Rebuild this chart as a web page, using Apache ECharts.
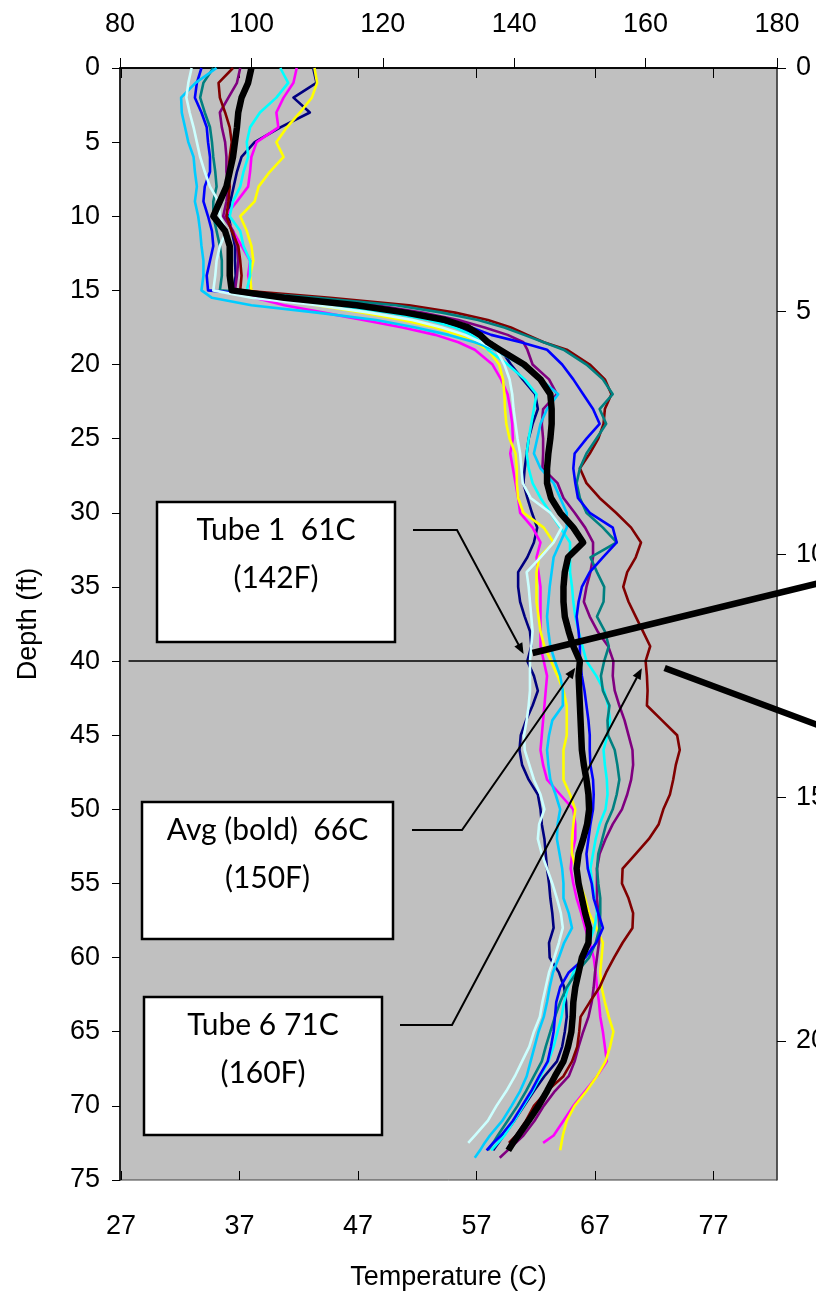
<!DOCTYPE html>
<html>
<head>
<meta charset="utf-8">
<script src="https://cdn.jsdelivr.net/npm/echarts@6/dist/echarts.min.js"></script>
<style>
  html, body { margin: 0; padding: 0; background: #ffffff; }
  #chart { width: 816px; height: 1299px; }
</style>
</head>
<body>
<div id="chart"></div>
<script>
// Depth of each reading (ft); temperatures below are in degrees F.
const depthFt = [0,1,2,3,4,5,6,7,8,9,10,11,12,13,14,15,
  15.5,16,16.5,17,17.5,18,18.5,19,
  20,21,22,23,24,25,26,27,28,29,30,31,32,33,34,35,36,37,38,39,40,41,42,43,44,45,46,
  47,48,49,50,51,52,53,54,55,56,57,58,59,60,61,62,63,64,65,66,67,68,69,70,71,72,
  72.5,73,73.5];

const tube1 = [109.4,109.9,106.4,108.9,104.4,100.5,98.5,97.8,97.3,96.8,96.5,97.0,97.5,97.5,97.6,97.3,
  106,115,122,127.5,131.5,134.5,136.5,138,
  139.5,141.3,143.2,143.6,142.8,142.2,141.9,141.6,141.4,142,142.7,143.5,143,
  142,140.6,140.6,140.9,141.6,142.4,142.6,142,143,143.6,142.8,141.8,141,140.8,141.2,142.2,143.6,
  144,144.2,144.6,144.8,145,145.3,145.5,145.8,146,145.3,145.4,146.8,147.6,147.9,148,147.7,147.3,146.5,144.6,143,141.5,140,138.4,
  137.6,136.8,null];

const tube2 = [106.9,106.4,104.9,103.8,104.1,100.8,100.0,99.8,99.5,97.8,96.0,97.2,98.5,99.8,99.5,100.0,
  100.5,105,111,117,123,128,131.5,134,
  136.7,138,139,139.4,139.7,139.8,139.4,139.8,140.2,140.6,140.9,142.8,144,
  143.4,143.7,144,144,144,144,144,144.5,145,144.8,144.6,144.4,144.2,144,144.4,145,147,
  149,149.3,149.3,148.8,148.6,149,149.5,150.2,150.8,151.5,152.1,152.4,152.6,152.9,153.1,153.5,153.8,154.1,152.6,150.8,149,147.5,146,
  144.4,null,null];

const tube3 = [109.6,110.0,109.2,107.4,105.4,103.8,104.9,102.8,101.1,100.5,98.3,99.3,100.0,100.3,99.8,100.0,
  103,110,117,123,128,131.5,134,136,
  137.7,138.3,138.5,138.6,138.8,139.3,140.2,140.4,140.4,140.6,141.4,144.5,146,
  143.8,143.4,143.4,143.4,143.7,144,144.6,145.6,146.6,147.5,148,148,148,147.5,147.5,147.5,148.5,
  149.3,149,148.8,148.8,149.4,150,150.8,151.4,152.5,153.5,153.3,153.1,153.3,153.8,154.4,155.1,154.6,153.9,152.6,151,149.2,148,147.4,
  147.2,147,null];

const tube4 = [104.4,105.6,103.8,101.3,99.8,99.3,99.5,98.8,98.3,97.2,96.7,98.3,98.8,99.8,99.8,99.3,
  104,113,121,127,131,133.5,135,136,
  139,141.6,143.4,143,142.6,142.2,141.9,142.2,142.8,144,145.5,147,148.5,
  148.5,148.5,148.8,149,149.3,149.8,150.4,151,152.5,153.7,154.3,154.6,154.2,153.6,153.8,154.1,154.2,
  153.9,153,152.4,152,151.6,151.9,152.3,152.6,152.2,151.4,150.3,149,148.2,147.6,147.2,146.6,146,145.2,144,142.8,141.4,140,138.5,
  137.5,136.5,null];

const tube5 = [98.3,97.8,96.5,95.2,95.5,96.0,96.2,96.2,96.5,96.2,95.7,97.2,97.8,98.0,97.8,97.5,
  108,119,126,131.5,135.5,139,141.4,142,
  142.8,145.3,146.5,144.4,144.2,144.4,144.4,144.3,146.6,147.5,149.2,150.8,152,
  152,151.6,151,150.6,151.5,152.7,154.3,155.1,155,155.3,156,156.8,157.4,158,158.1,157.8,157.2,
  156.4,155,153.9,153,152.6,152.6,152.6,152.8,153,152.9,152.6,152.3,152.1,151.8,151.3,150.5,149.8,149.2,148.3,146.2,144.5,143.1,141.4,
  140.2,139,137.8];

const tube6 = [97.2,95.0,95.2,96.0,96.7,97.0,96.7,96.5,96.7,96.5,96.2,97.0,98.0,98.3,98.5,98.3,
  112,124,131,136,139.5,142,144.5,148,
  151.5,153.8,154.8,153.8,153.6,152.8,151.5,150,151,153,155.5,157.8,159.3,
  158.5,157.2,156.6,157.4,158.5,159.6,160.7,160,160.2,160.3,160.2,162.5,164.8,165.2,164.6,164.2,163.7,
  162.7,162,160.5,158.5,156.5,156.4,157.4,158.1,158,156.5,155.2,154,153,151.5,150.1,149.9,149.6,148.8,147.5,145,143,141.8,140.3,
  139.2,null,null];

const tube7 = [94.2,92.7,92.2,92.9,93.7,94.0,94.2,94.5,94.7,94.2,94.2,94.7,95.2,95.5,95.5,95.2,
  110,122,129,134.5,138.5,141.5,144.5,147.5,
  151,153.5,155,153,154,152.5,151,150,149.5,150,151,153.5,155.6,
  151.6,152.6,153.7,153.6,152.6,153.8,154.4,153.7,153.2,153.5,154.5,154.2,154.3,155.3,155.7,156,155.6,
  155,154,153.4,152.8,152.6,152.8,153.1,153.1,153,152.4,151.4,149.5,148,147,146.2,145.5,144.8,144.2,143,141.8,140.5,139,137.5,
  136.8,136,null];

const tube8 = [92.4,91.7,91.4,92.4,93.2,93.4,93.7,93.7,92.9,92.7,93.4,94.0,94.2,93.7,93.2,93.4,
  106,117,124,130,133.5,136.5,141,145,
  147.3,149,150.5,152,153,151,149.2,149,149.3,149.7,151.5,155,155.6,
  153.5,151.5,150.3,149.8,149.5,149.8,150,150,150.3,150.7,151,151.3,151.5,151.5,151.6,152,152.1,
  152,151.6,151.3,151,151.2,151.8,152.1,152.8,153.5,152.5,150.8,148.3,147,146.4,146.2,146,145.6,145.1,143.8,142.6,141.2,139.8,138,
  136.8,135.8,null];

const tube9 = [94.7,91.5,89.3,89.4,89.9,90.4,91.2,91.4,91.7,91.4,91.9,92.2,92.4,92.7,92.7,92.4,
  94,100,110,119,125,130,134,137,
  141,144,146.7,145,144,143.5,143,144,146,147,148,148,147,
  146,145.7,145.4,145.2,145,145.2,145.5,146.2,147,147.4,147.4,145.8,145.3,145,145.2,145.5,146.3,
  147,146.6,146.5,146.9,147.3,147.5,147.5,148.3,148.8,147.6,146.8,145.9,145.4,145,144.5,143.7,143.1,142.5,141.9,140.9,139.6,138.2,136.3,
  135.5,134.8,134];

const tube10 = [90.9,90.4,90.1,90.6,91.2,91.7,92.2,92.9,93.7,95.0,95.2,96.2,95.2,94.7,94.5,94.2,
  100,110,118,124.5,129,132.5,135,137.3,
  138.5,139.3,139.7,139.9,140.2,140.5,140.9,141.1,141.3,142.5,145.5,147.2,146,
  144,141.9,142.2,142.4,142.6,142.8,142.6,142.4,142.4,142.4,142.2,141.9,141.5,141.6,142.3,143,144,
  144.6,143.8,143.6,144.2,145,145.8,146.5,147.1,147.4,146.8,146.1,145.3,144.8,144.3,143.9,143,142.3,141.2,140.1,138.8,137.3,136,134,
  133,null,null];

const average = [100.0,99.5,98.5,98.0,97.8,97.5,97.2,96.7,96.2,95.2,94.2,96.0,96.7,96.7,96.7,97.0,
  105,116,123.5,129.5,133,134.8,136,137.8,
  141.5,144,145.5,145.7,145.7,145.5,145.2,145,145,145.6,147,149,150.5,
  148.2,147.7,147.5,147.5,147.7,148.3,149,150,149.8,149.9,150,150.1,150.2,150.3,150.6,151,151.3,
  151.4,151.1,150.5,149.8,149.5,149.8,150.3,150.8,151.4,151.3,150.3,149.8,149.3,149,148.9,148.7,148.2,147.5,146.2,145,143.7,142.2,140.6,
  139.8,139.1,null];

const seriesNames = ['Tube 1','Tube 2','Tube 3','Tube 4','Tube 5','Tube 6','Tube 7','Tube 8','Tube 9','Tube 10','Avg'];
const seriesColors = ['#000080','#FF00FF','#FFFF00','#00FFFF','#800080','#800000','#008080','#0000FF','#00CCFF','#CCFFFF','#000000'];
const seriesValues = [tube1,tube2,tube3,tube4,tube5,tube6,tube7,tube8,tube9,tube10,average];

// Axis tick labels
const fTicks = { min: 80, max: 180, step: 20 };
const cTickLabels = [27, 37, 47, 57, 67, 77];
const depthTicks = { min: 0, max: 75, step: 5 };
const metreStep = 5;
const FT_TO_M = 0.3048;

// Annotations tied to the depth-40 reading
const MARK_DEPTH = 40;
const notes = [
  { text: ['Tube 1  61C', '(142F)'], values: tube1 },
  { text: ['Avg (bold)  66C', '(150F)'], values: average },
  { text: ['Tube 6 71C', '(160F)'], values: tube6 }
];

const AXIS_FONT = '"Liberation Sans", Arial, sans-serif';
const NOTE_FONT = 'Lato, "Open Sans", sans-serif';

const chart = echarts.init(document.getElementById('chart'), null, { renderer: 'canvas', width: 816, height: 1299 });

const lineSeries = seriesValues.map((vals, k) => {
  const isAvg = k === seriesValues.length - 1;
  const s = {
    name: seriesNames[k],
    type: 'line',
    xAxisIndex: 0,
    yAxisIndex: 0,
    showSymbol: false,
    symbol: 'none',
    animation: false,
    silent: true,
    z: isAvg ? 5 : 3,
    lineStyle: { color: seriesColors[k], width: isAvg ? 6.5 : 2.6, join: 'round' },
    data: depthFt.map((d, i) => [vals[i], d])
  };
  if (isAvg) {
    s.markLine = {
      silent: true,
      symbol: 'none',
      animation: false,
      label: { show: false },
      lineStyle: { color: '#000', width: 1.5, type: 'solid' },
      data: [[{ coord: [81.3, MARK_DEPTH] }, { coord: [fTicks.max, MARK_DEPTH] }]]
    };
  }
  return s;
});

const cMin = 26.92, cMax = 82.36;

chart.setOption({
  animation: false,
  backgroundColor: '#ffffff',
  grid: {
    left: 120, right: 39, top: 68, bottom: 119,
    outerBoundsMode: 'none', containLabel: false,
    show: true, backgroundColor: '#C0C0C0', borderColor: '#404040', borderWidth: 1
  },
  xAxis: [
    {
      type: 'value', position: 'top', min: fTicks.min, max: fTicks.max, interval: fTicks.step,
      axisLine: { show: true, lineStyle: { color: '#000', width: 1.5 } },
      axisTick: { show: true, inside: false, length: 10, lineStyle: { color: '#000', width: 1 } },
      axisLabel: { fontFamily: AXIS_FONT, fontSize: 27, color: '#000', margin: 30 },
      splitLine: { show: false }
    },
    {
      type: 'value', position: 'bottom', min: cMin, max: cMax,
      name: 'Temperature (C)', nameLocation: 'middle', nameGap: 84,
      nameTextStyle: { fontFamily: AXIS_FONT, fontSize: 27, color: '#000' },
      axisLine: { show: true, lineStyle: { color: '#000', width: 1.5 } },
      axisTick: { show: true, inside: false, length: 10, customValues: cTickLabels, lineStyle: { color: '#000', width: 1 } },
      axisLabel: { fontFamily: AXIS_FONT, fontSize: 27, color: '#000', margin: 33, customValues: cTickLabels },
      splitLine: { show: false }
    },
    {
      // inner half of the crossing ticks on the Celsius axis
      type: 'value', position: 'bottom', min: cMin, max: cMax,
      axisLine: { show: false },
      axisTick: { show: true, inside: true, length: 9, customValues: cTickLabels, lineStyle: { color: '#000', width: 1 } },
      axisLabel: { show: false },
      splitLine: { show: false }
    }
  ],
  yAxis: [
    {
      type: 'value', inverse: true, position: 'left',
      min: depthTicks.min, max: depthTicks.max, interval: depthTicks.step,
      name: 'Depth (ft)', nameLocation: 'middle', nameGap: 78, nameRotate: 90,
      nameTextStyle: { fontFamily: AXIS_FONT, fontSize: 27, color: '#000' },
      axisLine: { show: true, lineStyle: { color: '#000', width: 1.5 } },
      axisTick: { show: true, inside: false, length: 8, lineStyle: { color: '#000', width: 1 } },
      axisLabel: { fontFamily: AXIS_FONT, fontSize: 27, color: '#000', margin: 20 },
      splitLine: { show: false }
    },
    {
      type: 'value', inverse: true, position: 'right',
      min: 0, max: depthTicks.max * FT_TO_M, interval: metreStep,
      axisLine: { show: true, lineStyle: { color: '#404040', width: 1.5 } },
      axisTick: { show: true, inside: false, length: 9, lineStyle: { color: '#000', width: 1 } },
      axisLabel: { fontFamily: AXIS_FONT, fontSize: 27, color: '#000', margin: 19, showMaxLabel: false },
      splitLine: { show: false }
    }
  ],
  series: lineSeries
});

// Callout boxes, leader lines and arrows
function toPx(f, d) { return chart.convertToPixel({ xAxisIndex: 0, yAxisIndex: 0 }, [f, d]); }
const markIdx = depthFt.indexOf(MARK_DEPTH);

const boxes = [
  { x: 157, y: 502, w: 238, h: 140, lead: [413, 530, 457] },
  { x: 142, y: 802, w: 251, h: 137, lead: [412, 830, 462] },
  { x: 144, y: 997, w: 238, h: 138, lead: [400, 1025, 452] }
];

const elements = [];
const tips = [];
notes.forEach((n, k) => {
  const b = boxes[k];
  elements.push({
    type: 'rect', z: 100,
    shape: { x: b.x, y: b.y, width: b.w, height: b.h },
    style: { fill: '#fff', stroke: '#000', lineWidth: 2.5 }
  });
  n.text.forEach((t, j) => {
    elements.push({
      type: 'text', z: 101,
      x: b.x + b.w / 2, y: b.y + 28 + j * 48,
      style: { text: t, fill: '#000', font: '30px ' + NOTE_FONT, textAlign: 'center', textVerticalAlign: 'middle' }
    });
  });
  const target = toPx(n.values[markIdx], MARK_DEPTH);
  const sx = b.lead[2], sy = b.lead[1];
  const dx = target[0] - sx, dy = target[1] - sy;
  const len = Math.sqrt(dx * dx + dy * dy);
  const ux = dx / len, uy = dy / len;
  const tip = [target[0] - ux * 8, target[1] - uy * 8];
  tips.push({ tip, target });
  elements.push({
    type: 'polyline', z: 100,
    shape: { points: [[b.lead[0], sy], [sx, sy], [tip[0] - ux * 6, tip[1] - uy * 6]] },
    style: { stroke: '#000', lineWidth: 2, fill: null }
  });
  const hl = 11, hw = 4.5;
  elements.push({
    type: 'polygon', z: 100,
    shape: { points: [
      tip,
      [tip[0] - ux * hl - uy * hw, tip[1] - uy * hl + ux * hw],
      [tip[0] - ux * hl + uy * hw, tip[1] - uy * hl - ux * hw]
    ] },
    style: { fill: '#000' }
  });
});

// Heavy pointers leading off to the right of the plot
const t1 = tips[0].tip, t6 = tips[2].target;
const p1 = [t1[0] + 9, t1[1] - 1];
const p2 = [t6[0] + 19, t6[1] + 7];
const edge = 830;
elements.push({
  type: 'line', z: 102,
  shape: { x1: p1[0], y1: p1[1], x2: edge, y2: p1[1] - (edge - p1[0]) * 0.244 },
  style: { stroke: '#000', lineWidth: 6.5, lineCap: 'butt' }
});
elements.push({
  type: 'line', z: 102,
  shape: { x1: p2[0], y1: p2[1], x2: edge, y2: p2[1] + (edge - p2[0]) * 0.372 },
  style: { stroke: '#000', lineWidth: 6.5, lineCap: 'butt' }
});

chart.setOption({ graphic: { elements } });
</script>
</body>
</html>
